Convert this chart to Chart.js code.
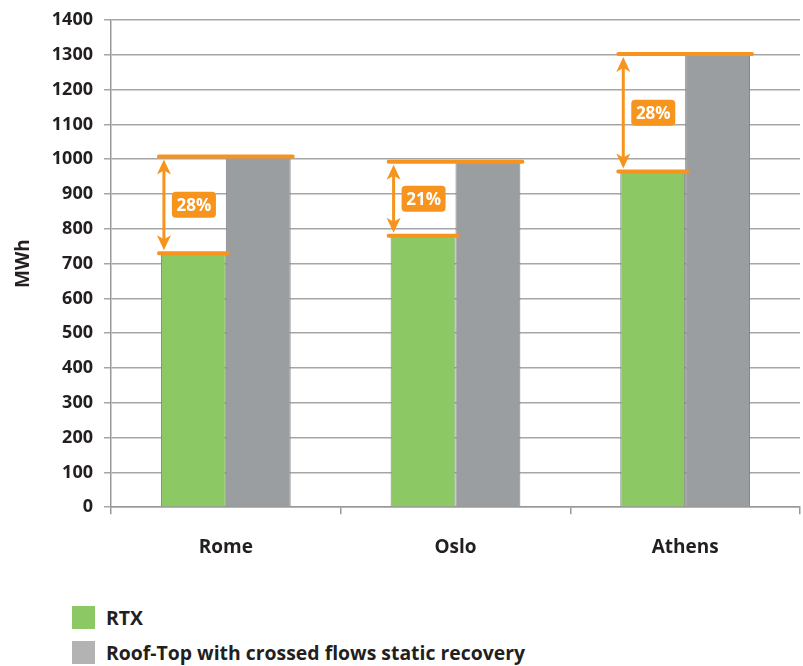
<!DOCTYPE html>
<html>
<head>
<meta charset="utf-8">
<script src="https://cdn.jsdelivr.net/npm/chart.js@4"></script>
<style>
  body { margin: 0; background: #fff; font-family: "Open Sans", sans-serif; }
  #wrap { position: relative; width: 803px; height: 666px; }
  #legend { position: absolute; left: 72px; top: 600px; }
  .item { display: flex; align-items: center; height: 35px; font-weight: bold; font-size: 19.4px; color: #231f20; }
  .box { width: 23px; height: 23px; margin-right: 11px; }
</style>
</head>
<body>
<div id="wrap">
  <canvas id="chart" width="803" height="581"></canvas>
  <div id="legend"></div>
</div>
<script>
const cities = ['Rome', 'Oslo', 'Athens'];
const rtx = [730, 780, 965];
const roofTop = [1008, 993, 1302];
const savings = ['28%', '21%', '28%'];
const seriesNames = ['RTX', 'Roof-Top with crossed flows static recovery'];
const yTicks = [0, 100, 200, 300, 400, 500, 600, 700, 800, 900, 1000, 1100, 1200, 1300, 1400];

const orange = '#f7941d';

// orange lines, double arrows and % boxes
const gapMarks = {
  id: 'gapMarks',
  afterDatasetsDraw(chart) {
    const ctx = chart.ctx;
    const y = chart.scales.y;
    const m0 = chart.getDatasetMeta(0);
    const m1 = chart.getDatasetMeta(1);
    ctx.save();
    ctx.strokeStyle = orange;
    ctx.fillStyle = orange;
    ctx.lineCap = 'round';
    cities.forEach((c, i) => {
      const g = m0.data[i], r = m1.data[i];
      const left = g.x - g.width / 2 - 2;
      const right = r.x + r.width / 2 + 2;
      const yTop = y.getPixelForValue(roofTop[i]);
      const yLow = y.getPixelForValue(rtx[i]);
      ctx.lineWidth = 4;
      ctx.beginPath();
      ctx.moveTo(left, yTop); ctx.lineTo(right, yTop);
      ctx.moveTo(left, yLow); ctx.lineTo(g.x + g.width / 2 + 2, yLow);
      ctx.stroke();
      // arrow
      const ax = left + 5;
      const t = yTop + 3, b = yLow - 3;
      ctx.lineWidth = 3;
      ctx.beginPath();
      ctx.moveTo(ax, t + 10); ctx.lineTo(ax, b - 10);
      ctx.stroke();
      ctx.beginPath();
      ctx.moveTo(ax, t); ctx.lineTo(ax - 7, t + 15); ctx.lineTo(ax, t + 11); ctx.lineTo(ax + 7, t + 15); ctx.closePath();
      ctx.moveTo(ax, b); ctx.lineTo(ax - 7, b - 15); ctx.lineTo(ax, b - 11); ctx.lineTo(ax + 7, b - 15); ctx.closePath();
      ctx.fill();
      // label box
      const cx = ax + 30, cy = (yTop + yLow) / 2;
      ctx.beginPath();
      ctx.roundRect(cx - 22, cy - 13, 44, 26, 4);
      ctx.fill();
      ctx.fillStyle = '#fff';
      ctx.font = 'bold 17px "Open Sans"';
      ctx.textAlign = 'center';
      ctx.textBaseline = 'middle';
      ctx.fillText(savings[i], cx, cy + 1);
      ctx.fillStyle = orange;
    });
    ctx.restore();
  }
};

new Chart(document.getElementById('chart'), {
  type: 'bar',
  data: {
    labels: cities,
    datasets: [
      { label: seriesNames[0], data: rtx, backgroundColor: '#8cc864', borderColor: '#808285', borderWidth: 1 },
      { label: seriesNames[1], data: roofTop, backgroundColor: '#9a9ea1', borderColor: '#808285', borderWidth: 1 }
    ]
  },
  options: {
    responsive: false,
    animation: false,
    layout: { padding: { top: 17, right: 3, left: 8, bottom: 0 } },
    categoryPercentage: 0.565,
    barPercentage: 1,
    plugins: { legend: { display: false }, tooltip: { enabled: false } },
    scales: {
      x: {
        grid: { drawOnChartArea: false, drawTicks: true, tickLength: 7, color: '#999', lineWidth: 1.5 },
        border: { color: '#999', width: 1.5 },
        ticks: { color: '#231f20', font: { family: 'Open Sans', size: 19, weight: 'bold' }, padding: 22 }
      },
      y: {
        min: 0, max: 1400,
        afterBuildTicks: (axis) => { axis.ticks = yTicks.map(v => ({ value: v })); },
        grid: { color: '#a6a6a6', lineWidth: 1.5, tickLength: 7 },
        border: { color: '#999', width: 1.5 },
        title: { display: true, text: 'MWh', color: '#231f20', font: { family: 'Open Sans', size: 19, weight: 'bold' }, padding: { bottom: 6 } },
        ticks: { color: '#231f20', font: { family: 'Open Sans', size: 18, weight: 'bold', lineHeight: 1 }, padding: 11, callback: (v) => String(v) }
      }
    }
  },
  plugins: [gapMarks]
});

const legendColors = ['#8cc864', '#b3b3b3'];
document.getElementById('legend').innerHTML = seriesNames.map((n, i) =>
  '<div class="item"><span class="box" style="background:' + legendColors[i] + '"></span>' + n + '</div>').join('');
</script>
</body>
</html>
